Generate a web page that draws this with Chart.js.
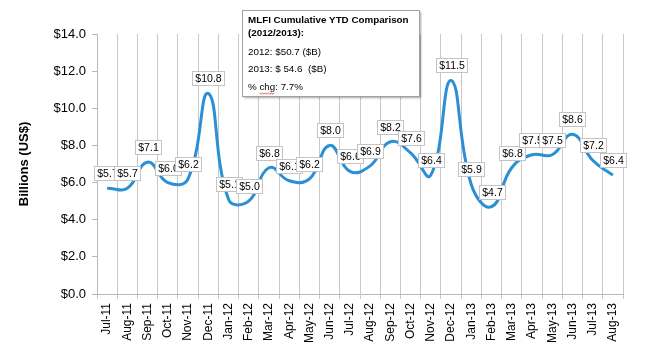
<!DOCTYPE html>
<html>
<head>
<meta charset="utf-8">
<script src="https://cdn.jsdelivr.net/npm/chart.js@4/dist/chart.umd.min.js"></script>
<style>
  html, body { margin: 0; padding: 0; background: #fff; }
  #wrap { width: 650px; height: 350px; position: relative; }
</style>
</head>
<body>
<div id="wrap"><canvas id="chart"></canvas></div>
<script>
const months = [
  "Jul-11", "Aug-11", "Sep-11", "Oct-11", "Nov-11", "Dec-11",
  "Jan-12", "Feb-12", "Mar-12", "Apr-12", "May-12", "Jun-12",
  "Jul-12", "Aug-12", "Sep-12", "Oct-12", "Nov-12", "Dec-12",
  "Jan-13", "Feb-13", "Mar-13", "Apr-13", "May-13", "Jun-13",
  "Jul-13", "Aug-13"
]
const billions = [
  5.7, 5.7, 7.1, 6.0, 6.2, 10.8,
  5.1, 5.0, 6.8, 6.1, 6.2, 8.0,
  6.6, 6.9, 8.2, 7.6, 6.4, 11.5,
  5.9, 4.7, 6.8, 7.5, 7.5, 8.6,
  7.2, 6.4
]
const noteTitle = ["MLFI Cumulative YTD Comparison", "(2012/2013):"]
const noteLines = ["2012: $50.7 ($B)", "2013: $ 54.6  ($B)", "% chg: 7.7%"]

const FONT = "'Liberation Sans', Arial, sans-serif"

// boxed "$x.x" labels above each point
const valueLabels = {
  id: "valueLabels",
  afterDatasetsDraw(chart) {
    const ctx = chart.ctx
    const meta = chart.getDatasetMeta(0)
    ctx.save()
    ctx.font = "10.5px " + FONT
    ctx.textAlign = "center"
    ctx.textBaseline = "middle"
    meta.data.forEach((pt, i) => {
      const txt = "$" + billions[i].toFixed(1)
      const w = Math.round(ctx.measureText(txt).width + 6)
      const h = 14
      const left = Math.round(pt.x - w / 2)
      const top = Math.round(pt.y - 15 - h / 2)
      ctx.fillStyle = "#fff"
      ctx.fillRect(left, top, w, h)
      ctx.strokeStyle = "#c4c4c4"
      ctx.lineWidth = 1
      ctx.strokeRect(left + 0.5, top + 0.5, w, h)
      ctx.fillStyle = "#000"
      ctx.fillText(txt, left + w / 2 + 0.5, top + h / 2 + 1)
    })
    ctx.restore()
  }
}

// comparison text box at top
const noteBox = {
  id: "noteBox",
  afterDraw(chart) {
    const ctx = chart.ctx
    const x = 242, y = 10, w = 177, h = 86
    ctx.save()
    ctx.shadowColor = "rgba(0,0,0,0.35)"
    ctx.shadowOffsetX = 2
    ctx.shadowOffsetY = 2
    ctx.shadowBlur = 2
    ctx.fillStyle = "#fff"
    ctx.fillRect(x, y, w, h)
    ctx.restore()
    ctx.save()
    ctx.strokeStyle = "#a0a0a0"
    ctx.lineWidth = 1
    ctx.strokeRect(x + 0.5, y + 0.5, w, h)
    ctx.fillStyle = "#000"
    ctx.textBaseline = "middle"
    ctx.font = "bold 9.8px " + FONT
    ctx.fillText(noteTitle[0], x + 6, y + 10)
    ctx.fillText(noteTitle[1], x + 6, y + 23)
    ctx.font = "9.8px " + FONT
    ctx.fillText(noteLines[0], x + 6, y + 42)
    ctx.fillText(noteLines[1], x + 6, y + 59)
    ctx.fillText(noteLines[2], x + 6, y + 77)
    // spell-check squiggle under "chg"
    const sx = x + 6 + ctx.measureText("% ").width
    const sw = ctx.measureText("chg").width
    ctx.strokeStyle = "#e03030"
    ctx.lineWidth = 0.8
    ctx.beginPath()
    for (let i = 0; i <= sw; i += 1.5) {
      const yy = y + 83 + ((i / 1.5) % 2 === 0 ? 0 : 1.2)
      if (i === 0) ctx.moveTo(sx + i, yy)
      else ctx.lineTo(sx + i, yy)
    }
    ctx.stroke()
    ctx.restore()
  }
}

new Chart(document.getElementById("chart"), {
  type: "line",
  data: {
    labels: months,
    datasets: [{
      data: billions,
      borderColor: "#2a8fd4",
      borderWidth: 3,
      pointRadius: 0,
      tension: 0.45,
      fill: false
    }]
  },
  options: {
    responsive: true,
    maintainAspectRatio: false,
    animation: false,
    layout: { padding: { top: 34, right: 27, left: 17, bottom: 0 } },
    plugins: {
      legend: { display: false },
      tooltip: { enabled: false }
    },
    scales: {
      x: {
        offset: true,
        grid: {
          offset: true,
          color: "#c8c8c8",
          lineWidth: 1,
          tickLength: 5
        },
        border: { color: "#b8b8b8", width: 1 },
        ticks: {
          autoSkip: false,
          maxRotation: 90,
          minRotation: 90,
          color: "#000",
          padding: 4,
          font: { family: FONT, size: 12 }
        },
        afterFit(scale) { scale.height = 56 }
      },
      y: {
        min: 0,
        max: 14,
        ticks: {
          stepSize: 2,
          color: "#000",
          padding: 6,
          font: { family: FONT, size: 13 },
          callback: v => "$" + Number(v).toFixed(1)
        },
        grid: {
          drawOnChartArea: false,
          drawTicks: true,
          tickLength: 5,
          color: "#b8b8b8"
        },
        border: { color: "#b8b8b8", width: 1 },
        title: {
          display: true,
          text: "Billions (US$)",
          color: "#000",
          padding: { top: 0, bottom: 0 },
          font: { family: FONT, size: 13, weight: "bold" }
        },
        afterFit(scale) { scale.width = 80 }
      }
    }
  },
  plugins: [valueLabels, noteBox]
})
</script>
</body>
</html>
